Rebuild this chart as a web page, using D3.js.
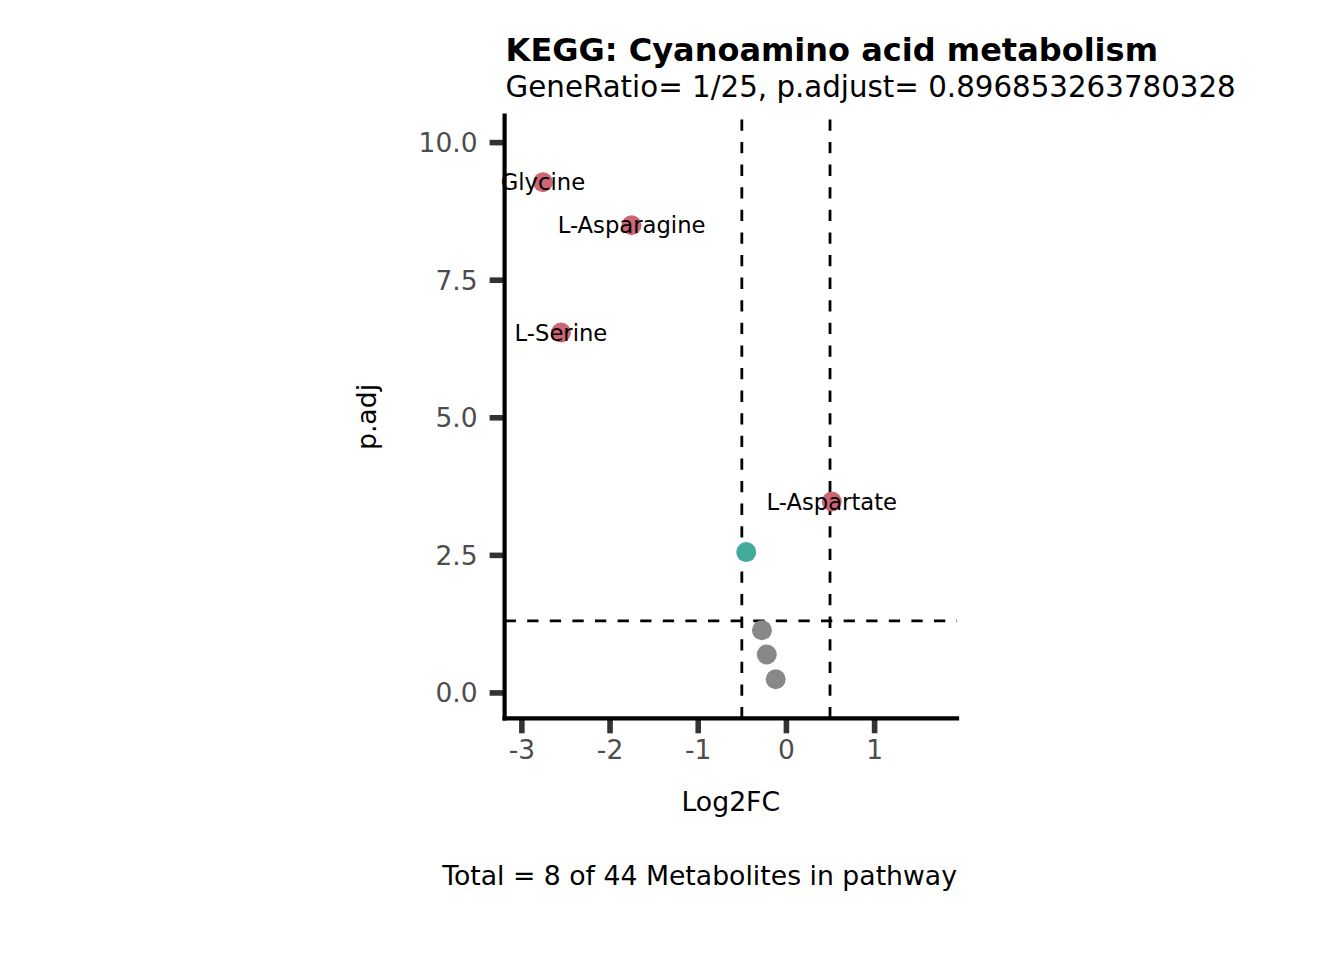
<!DOCTYPE html>
<html>
<head>
<meta charset="utf-8">
<script src="https://cdn.jsdelivr.net/npm/d3@7"></script>
<style>
  html, body { margin: 0; padding: 0; background: #fff; }
  svg { display: block; }
  text { font-family: "DejaVu Sans", sans-serif; }
</style>
</head>
<body>
<div id="chart"></div>
<script>
// ---- data ----
const labels = ["Glycine", "L-Asparagine", "L-Serine", "L-Aspartate", "", "", "", ""];
const log2fc = [-2.755, -1.75, -2.551, 0.52, -0.45, -0.272, -0.217, -0.116];
const padj   = [9.27, 8.49, 6.54, 3.47, 2.55, 1.13, 0.69, 0.24];
const group  = ["sig", "sig", "sig", "sig", "sigLow", "ns", "ns", "ns"];
const xTicks = [-3, -2, -1, 0, 1];
const yTicks = [0, 2.5, 5, 7.5, 10];
const fcCut = [-0.5, 0.5];
const pCut = -Math.log10(0.05);
const titleText = "KEGG: Cyanoamino acid metabolism";
const subtitleText = "GeneRatio= 1/25, p.adjust= 0.896853263780328";
const captionText = "Total = 8 of 44 Metabolites in pathway";
const xTitle = "Log2FC";
const yTitle = "p.adj";

const colors = { sig: "#CC6677", sigLow: "#44AA99", ns: "#888888" };

const W = 1344, H = 960;
const panel = { left: 504.6, right: 957, top: 115.7, bottom: 718.3 };

const svg = d3.select("#chart").append("svg").attr("width", W).attr("height", H);

const x = d3.scaleLinear().domain([-3.19, 1.94]).range([panel.left, panel.right]);
const y = d3.scaleLinear().domain([-0.47, 10.48]).range([panel.bottom, panel.top]);

const data = labels.map((l, i) => ({ label: l, fc: log2fc[i], p: padj[i], g: group[i] }));

// reference lines
const ref = svg.append("g").attr("stroke", "#000").attr("stroke-width", 2.8)
  .attr("stroke-dasharray", "11.3,11.3").attr("fill", "none");
ref.selectAll("line.v").data(fcCut).join("line").attr("class", "v")
  .attr("x1", d => x(d)).attr("x2", d => x(d))
  .attr("y1", panel.bottom).attr("y2", panel.top);
ref.append("line")
  .attr("x1", panel.left).attr("x2", panel.right)
  .attr("y1", y(pCut)).attr("y2", y(pCut));

// points
svg.append("g").selectAll("circle").data(data).join("circle")
  .attr("cx", d => x(d.fc)).attr("cy", d => y(d.p)).attr("r", 10)
  .attr("fill", d => colors[d.g]);

// labels
svg.append("g").selectAll("text").data(data.filter(d => d.label)).join("text")
  .attr("x", d => x(d.fc)).attr("y", d => y(d.p))
  .attr("text-anchor", "middle").attr("dy", "0.36em")
  .attr("font-size", 22.7).attr("fill", "#000")
  .text(d => d.label);

// axes
const xAxis = svg.append("g").attr("transform", `translate(0,${panel.bottom})`)
  .call(d3.axisBottom(x).tickValues(xTicks).tickFormat(d3.format("d")).tickSize(15).tickPadding(6));
const yAxis = svg.append("g").attr("transform", `translate(${panel.left},0)`)
  .call(d3.axisLeft(y).tickValues(yTicks).tickFormat(d3.format(".1f")).tickSize(15).tickPadding(12));
[xAxis, yAxis].forEach(a => {
  a.select(".domain").remove();
  a.selectAll(".tick line").attr("stroke", "#333333").attr("stroke-width", 5.6);
  a.selectAll(".tick text").attr("fill", "#4D4D4D").attr("font-size", 26.5)
    .attr("font-family", "DejaVu Sans");
});
xAxis.selectAll(".tick text").attr("dy", "0.76em").text(d => d3.format("d")(d).replace("−", "-"));
yAxis.selectAll(".tick text").attr("dy", "0.36em");

// axis lines
svg.append("line").attr("x1", panel.left).attr("x2", panel.right)
  .attr("y1", panel.bottom).attr("y2", panel.bottom)
  .attr("stroke", "#000").attr("stroke-width", 4.2).attr("stroke-linecap", "square");
svg.append("line").attr("x1", panel.left).attr("x2", panel.left)
  .attr("y1", panel.top).attr("y2", panel.bottom)
  .attr("stroke", "#000").attr("stroke-width", 4.2).attr("stroke-linecap", "square");

// titles
svg.append("text").attr("x", panel.left + 1).attr("y", 61)
  .attr("font-size", 32).attr("font-weight", "bold").text(titleText);
svg.append("text").attr("x", panel.left + 1).attr("y", 97)
  .attr("font-size", 29.3).text(subtitleText);
svg.append("text").attr("x", (panel.left + panel.right) / 2).attr("y", 811)
  .attr("text-anchor", "middle").attr("font-size", 26.7).text(xTitle);
svg.append("text").attr("transform", `translate(376,${(panel.top + panel.bottom) / 2}) rotate(-90)`)
  .attr("text-anchor", "middle").attr("font-size", 26.7).text(yTitle);
svg.append("text").attr("x", panel.right).attr("y", 885)
  .attr("text-anchor", "end").attr("font-size", 26.7).text(captionText);
</script>
</body>
</html>
